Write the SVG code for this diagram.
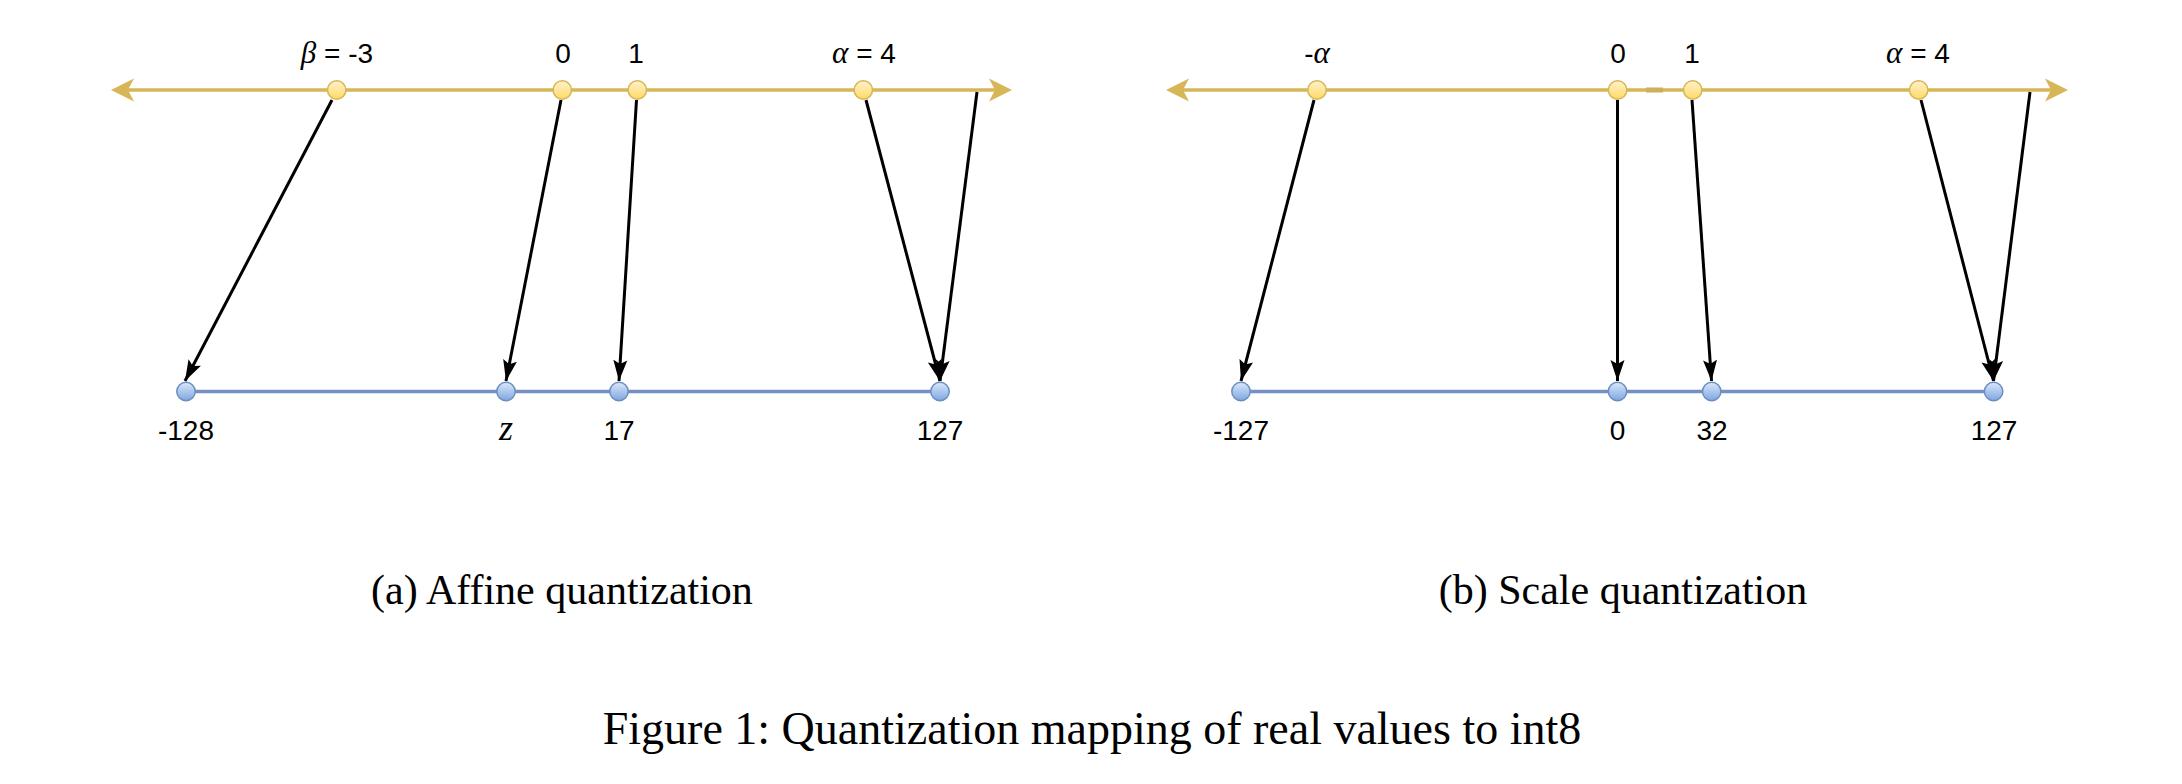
<svg xmlns="http://www.w3.org/2000/svg" width="2182" height="784" viewBox="0 0 2182 784">
<style>
.real{stroke:#d6b656;stroke-width:3.5;fill:none}
.int{stroke:#7590c2;stroke-width:3.5;fill:none}
.head{fill:#d6b656}
.yc{fill:url(#yg);stroke:#d6b656;stroke-width:1.5}
.bc{fill:url(#bg);stroke:#6c8ebf;stroke-width:1.5}
.map{stroke:#000;stroke-width:3;fill:none;marker-end:url(#ah)}
.lbl{font-family:"Liberation Sans",Arial,sans-serif;font-size:28px;fill:#000;text-anchor:middle}
.math{font-family:"Liberation Serif","Times New Roman",serif;font-style:italic;font-size:31px}
.mz{font-family:"Liberation Serif","Times New Roman",serif;font-style:italic;font-size:36px}
.cap{font-family:"Liberation Serif","Times New Roman",serif;font-size:42px;fill:#000;text-anchor:middle}
.fig{font-family:"Liberation Serif","Times New Roman",serif;font-size:46px;fill:#000;text-anchor:middle}
</style>
<defs>
<linearGradient id="yg" x1="0" y1="0" x2="0" y2="1"><stop offset="0" stop-color="#fff2cc"/><stop offset="1" stop-color="#ffd966"/></linearGradient>
<linearGradient id="bg" x1="0" y1="0" x2="0" y2="1"><stop offset="0" stop-color="#dae8fc"/><stop offset="1" stop-color="#7ea6e0"/></linearGradient>
<marker id="ah" markerUnits="userSpaceOnUse" markerWidth="22" markerHeight="16" viewBox="0 0 22 16" refX="21" refY="8" orient="auto">
<path d="M0,1 L21,8 L0,15 L4,8 Z" fill="#000"/>
</marker>
</defs>

<g id="real-axis-a">
<line class="real" x1="120" y1="90" x2="1004" y2="90"/>
<polygon class="head" points="111,90 134,78.5 128,90 134,101.5"/>
<polygon class="head" points="1012,90 989,78.5 995,90 989,101.5"/>
</g>
<g id="int-axis-a">
<line class="int" x1="186" y1="391.5" x2="940" y2="391.5"/>
</g>
<g id="real-axis-b">
<line class="real" x1="1175" y1="90" x2="2059" y2="90"/>
<polygon class="head" points="1166,90 1189,78.5 1183,90 1189,101.5"/>
<polygon class="head" points="2068,90 2045,78.5 2051,90 2045,101.5"/>
<rect x="1646" y="87.5" width="17" height="5" fill="#ccb05c"/>
</g>
<g id="int-axis-b">
<line class="int" x1="1241" y1="391.5" x2="1994" y2="391.5"/>
</g>

<g id="connectors">
<line class="map" x1="332" y1="100" x2="185" y2="381"/>
<line class="map" x1="561" y1="100" x2="506" y2="381"/>
<line class="map" x1="636.5" y1="100" x2="619" y2="381"/>
<line class="map" x1="866" y1="100" x2="940" y2="381"/>
<line class="map" x1="977" y1="92" x2="940" y2="381"/>
<line class="map" x1="1314" y1="100" x2="1241" y2="381"/>
<line class="map" x1="1617.5" y1="100" x2="1617.5" y2="381"/>
<line class="map" x1="1692" y1="100" x2="1711.5" y2="381"/>
<line class="map" x1="1921" y1="100" x2="1993.5" y2="381"/>
<line class="map" x1="2030" y1="92" x2="1993.5" y2="381"/>
</g>

<g id="node-beta"><circle class="yc" cx="336.7" cy="90" r="9.2"/><text class="lbl" x="337" y="63"><tspan class="math">β</tspan> = -3</text></g>
<g id="node-a-zero"><circle class="yc" cx="562.3" cy="90" r="9.2"/><text class="lbl" x="563" y="63">0</text></g>
<g id="node-a-one"><circle class="yc" cx="637.3" cy="90" r="9.2"/><text class="lbl" x="636" y="63">1</text></g>
<g id="node-a-alpha"><circle class="yc" cx="863.3" cy="90" r="9.2"/><text class="lbl" x="864" y="63"><tspan class="math">α</tspan> = 4</text></g>

<g id="node-m128"><circle class="bc" cx="186" cy="391.5" r="9.2"/><text class="lbl" x="186" y="440">-128</text></g>
<g id="node-z"><circle class="bc" cx="506" cy="391.5" r="9.2"/><text class="lbl mz" x="506" y="440">z</text></g>
<g id="node-17"><circle class="bc" cx="619" cy="391.5" r="9.2"/><text class="lbl" x="619" y="440">17</text></g>
<g id="node-a-127"><circle class="bc" cx="940" cy="391.5" r="9.2"/><text class="lbl" x="940" y="440">127</text></g>

<g id="node-malpha"><circle class="yc" cx="1317" cy="90" r="9.2"/><text class="lbl" x="1317" y="63">-<tspan class="math">α</tspan></text></g>
<g id="node-b-zero"><circle class="yc" cx="1617.6" cy="90" r="9.2"/><text class="lbl" x="1618" y="63">0</text></g>
<g id="node-b-one"><circle class="yc" cx="1692.7" cy="90" r="9.2"/><text class="lbl" x="1692" y="63">1</text></g>
<g id="node-b-alpha"><circle class="yc" cx="1918.7" cy="90" r="9.2"/><text class="lbl" x="1918" y="63"><tspan class="math">α</tspan> = 4</text></g>

<g id="node-m127"><circle class="bc" cx="1241" cy="391.5" r="9.2"/><text class="lbl" x="1241" y="440">-127</text></g>
<g id="node-b-0"><circle class="bc" cx="1617.5" cy="391.5" r="9.2"/><text class="lbl" x="1617.5" y="440">0</text></g>
<g id="node-32"><circle class="bc" cx="1711.7" cy="391.5" r="9.2"/><text class="lbl" x="1712" y="440">32</text></g>
<g id="node-b-127"><circle class="bc" cx="1993.6" cy="391.5" r="9.2"/><text class="lbl" x="1994" y="440">127</text></g>

<g id="captions">
<text class="cap" x="562" y="604">(a) Affine quantization</text>
<text class="cap" x="1623" y="604">(b) Scale quantization</text>
<text class="fig" x="1092" y="744">Figure 1: Quantization mapping of real values to int8</text>
</g>
</svg>
